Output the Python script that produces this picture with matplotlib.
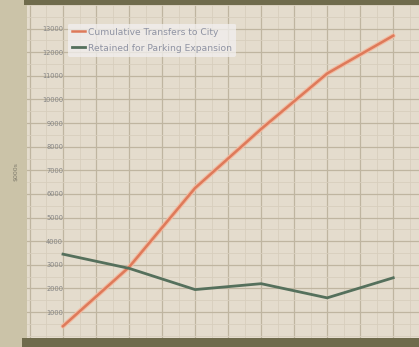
import matplotlib
matplotlib.use("Agg")
import matplotlib.pyplot as plt
from matplotlib.patches import Rectangle
from matplotlib.ticker import MultipleLocator, FixedLocator

periods = [0, 1, 2, 3, 4, 5]
cumulative_transfers = [400, 2900, 6250, 8750, 11100, 12700]
retained_parking = [3450, 2850, 1950, 2200, 1600, 2450]
y_ticks = [1000, 2000, 3000, 4000, 5000, 6000, 7000, 8000, 9000, 10000, 11000, 12000, 13000]
series_labels = ["Cumulative Transfers to City", "Retained for Parking Expansion"]

W, H = 419, 347
fig = plt.figure(figsize=(W/100, H/100), dpi=100, facecolor="#cbc3a8")
ax = fig.add_axes([27/W, 9/H, 392/W, 333/H])
ax.set_facecolor("#e4dccd")

ax.plot(periods, cumulative_transfers, color="#f2bca2", lw=3.4, solid_capstyle="round", zorder=3)
ax.plot(periods, cumulative_transfers, color="#de7a5a", lw=1.8, label=series_labels[0], zorder=4)
ax.plot(periods, retained_parking, color="#55705c", lw=2.0, label=series_labels[1], zorder=4)

ax.set_xlim(-0.545, 5.39)
ax.set_ylim(-100, 14000)

ax.xaxis.set_major_locator(MultipleLocator(0.5))
ax.xaxis.set_minor_locator(MultipleLocator(0.25))
ax.yaxis.set_major_locator(FixedLocator(y_ticks))
ax.yaxis.set_minor_locator(MultipleLocator(500))
ax.grid(which="major", color="#bfb5a0", lw=0.9)
ax.grid(which="minor", color="#d7cebd", lw=0.6)
ax.set_axisbelow(True)

ax.tick_params(axis="x", which="both", length=0, labelbottom=False)
ax.tick_params(axis="y", which="both", length=0, pad=-26, labelsize=4.8, labelcolor="#858585")
for lab in ax.get_yticklabels():
    lab.set_horizontalalignment("right")
ax.set_ylabel(r"\$000s", fontsize=4.5, color="#7f7b6c", labelpad=6)

for s in ax.spines.values():
    s.set_visible(False)

fig.patches.append(Rectangle((24/W, (H-5)/H), 1, 5/H, transform=fig.transFigure,
                             facecolor="#6f6b4c", edgecolor="none", zorder=10))
fig.patches.append(Rectangle((22/W, 0), 1, 9/H, transform=fig.transFigure,
                             facecolor="#6f6b4c", edgecolor="none", zorder=10))

leg = ax.legend(loc="upper left", bbox_to_anchor=(0.093, 0.958), fontsize=6.6,
                frameon=True, facecolor="#f2f0f0", edgecolor="none", framealpha=0.75,
                handlelength=1.4, handletextpad=0.3, borderpad=0.45, labelspacing=0.75)
for t in leg.get_texts():
    t.set_color("#8f93a3")

fig.savefig("out.png", dpi=100, facecolor=fig.get_facecolor())
